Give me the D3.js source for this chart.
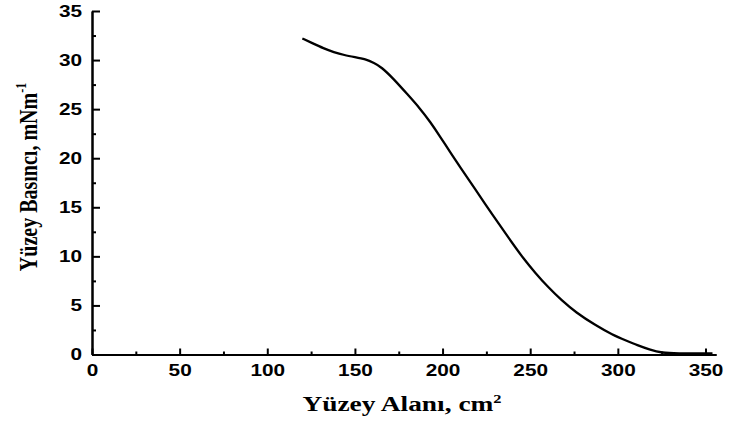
<!DOCTYPE html>
<html>
<head>
<meta charset="utf-8">
<script src="https://cdn.jsdelivr.net/npm/d3@7"></script>
<style>
    body { margin: 0; background: #fff; }
    svg { display: block; }
</style>
</head>
<body>
<div id="chart_container"></div>
<script>
let area = [120, 126, 132, 138, 144, 150, 156, 161, 165, 172, 180, 187, 193, 199, 204, 210, 218, 229, 238, 246, 253, 260, 268, 276, 287, 297, 305, 311, 318, 325, 335, 345, 354];
let pressure = [32.2, 31.7, 31.2, 30.8, 30.5, 30.3, 30.1, 29.7, 29.3, 28.1, 26.5, 25.1, 23.7, 22.1, 20.7, 19.1, 17.0, 14.1, 11.8, 9.8, 8.3, 6.9, 5.5, 4.3, 3.0, 2.0, 1.4, 0.95, 0.5, 0.15, 0.12, 0.1, 0.1];

let x_ticks = [0, 50, 100, 150, 200, 250, 300, 350];
let x_minor = [25, 75, 125, 175, 225, 275, 325];
let y_ticks = [0, 5, 10, 15, 20, 25, 30, 35];
let y_minor = [2.5, 7.5, 12.5, 17.5, 22.5, 27.5, 32.5];

let x_title = "Yüzey Alanı, cm";
let y_title = "Yüzey Basıncı, mNm";

let width = 730, height = 423;
// the original figure is stretched sideways, so text is widened by this factor
let stretch = 1.3;

let svg = d3.select("#chart_container")
    .append("svg")
    .attr("width", width)
    .attr("height", height);

let x = d3.scaleLinear().domain([0, 356]).range([92, 716]);
let y = d3.scaleLinear().domain([0, 35]).range([354.5, 11]);

// X axis (ticks point inward)
let gx = svg.append("g")
    .attr("transform", "translate(0," + y(0) + ")");
gx.call(d3.axisBottom(x).tickValues(x_ticks).tickSize(-6).tickSizeOuter(0).tickFormat(d3.format("d")));
gx.append("g").call(d3.axisBottom(x).tickValues(x_minor).tickSize(-3).tickSizeOuter(0).tickFormat(""));
gx.selectAll("text")
    .attr("y", 10)
    .attr("dy", "0.71em")
    .attr("transform", "scale(" + stretch + ",1)");

// Y axis
let gy = svg.append("g")
    .attr("transform", "translate(" + x(0) + ",0)");
gy.call(d3.axisLeft(y).tickValues(y_ticks).tickSize(-8).tickSizeOuter(0).tickFormat(d3.format("d")));
gy.append("g").call(d3.axisLeft(y).tickValues(y_minor).tickSize(-4).tickSizeOuter(0).tickFormat(""));
gy.selectAll("text")
    .attr("x", -10 / stretch)
    .attr("transform", "scale(" + stretch + ",1)");

svg.selectAll(".domain").attr("stroke", "#000").attr("stroke-width", 2);
svg.selectAll(".tick line").attr("stroke", "#000").attr("stroke-width", 2);
svg.selectAll(".tick text")
    .attr("fill", "#000")
    .style("font-family", "'Liberation Sans', Arial, sans-serif")
    .style("font-weight", "bold")
    .style("font-size", "16px");

// isotherm curve
let points = area.map(function (a, i) { return [a, pressure[i]]; });
let line = d3.line()
    .x(function (d) { return x(d[0]); })
    .y(function (d) { return y(d[1]); })
    .curve(d3.curveBasis);

svg.append("path")
    .datum(points)
    .attr("fill", "none")
    .attr("stroke", "#000")
    .attr("stroke-width", 2.3)
    .attr("stroke-linejoin", "round")
    .attr("d", line);

// axis titles
let xt = svg.append("text")
    .attr("transform", "translate(402,411) scale(1.37,1)")
    .attr("text-anchor", "middle")
    .style("font-family", "'Liberation Serif', 'Times New Roman', serif")
    .style("font-weight", "bold")
    .style("font-size", "20px");
xt.append("tspan").text(x_title);
xt.append("tspan").attr("dy", -8).style("font-size", "12px").text("2");

let yt = svg.append("text")
    .attr("transform", "translate(36.5,177) scale(" + stretch + ",1) rotate(-90)")
    .attr("text-anchor", "middle")
    .style("font-family", "'Liberation Serif', 'Times New Roman', serif")
    .style("font-weight", "bold")
    .style("font-size", "20px");
yt.append("tspan").text(y_title);
yt.append("tspan").attr("dy", -8).style("font-size", "12px").text("-1");
</script>
</body>
</html>
